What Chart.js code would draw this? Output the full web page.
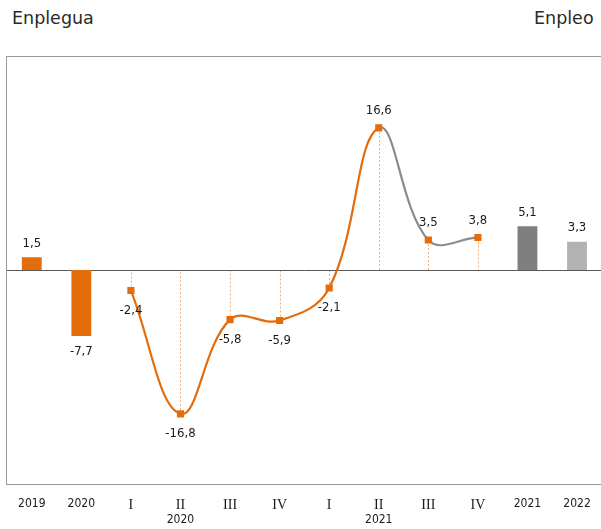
<!DOCTYPE html>
<html>
<head>
<meta charset="utf-8">
<script src="https://cdn.jsdelivr.net/npm/chart.js@4.4.0/dist/chart.umd.min.js"></script>
<style>
html, body { margin: 0; padding: 0; background: #fff; overflow: hidden; }
#wrap { position: relative; width: 608px; height: 529px; }
#cnvs { position: absolute; left: 0; top: 0; }
.head { position: absolute; top: 8px; font-family: "DejaVu Sans", Verdana, sans-serif; font-size: 17.5px; color: #2a2a2a; }
</style>
</head>
<body>
<div id="wrap">
  <span class="head" style="left:12px">Enplegua</span>
  <span class="head" style="left:534px">Enpleo</span>
  <canvas id="cnvs" width="608" height="529"></canvas>
</div>
<script>
// data
var categories = ['2019', '2020', 'I', 'II', 'III', 'IV', 'I', 'II', 'III', 'IV', '2021', '2022'];
var quarterYears = ['', '', '', '2020', '', '', '', '2021', '', '', '', ''];
var annualValues = [1.5, -7.7, null, null, null, null, null, null, null, null, 5.1, 3.3];
var quarterValues = [null, null, -2.4, -16.8, -5.8, -5.9, -2.1, 16.6, 3.5, 3.8, null, null];

var orange = '#E46C0A';
var grey = '#8C8C8C';
var condFont = '"DejaVu Sans Condensed", "DejaVu Sans", sans-serif';

function fmt(v) { return v.toFixed(1).replace('.', ','); }

var extras = {
  id: 'extras',
  beforeDatasetsDraw: function(chart) {
    var ctx = chart.ctx, area = chart.chartArea;
    var zero = Math.round(chart.scales.y.getPixelForValue(0)) + 0.5;
    ctx.save();
    // frame
    ctx.strokeStyle = '#9a9a9a';
    ctx.lineWidth = 1;
    ctx.strokeRect(Math.round(area.left) - 0.5, Math.round(area.top) + 0.5,
      Math.round(area.right - area.left), Math.round(area.bottom - area.top));
    // drop lines
    ctx.strokeStyle = '#F4B07A';
    ctx.setLineDash([2, 2]);
    chart.getDatasetMeta(1).data.forEach(function(pt, i) {
      if (quarterValues[i] === null) return;
      var x = Math.round(pt.x) + 0.5;
      ctx.beginPath(); ctx.moveTo(x, pt.y); ctx.lineTo(x, zero); ctx.stroke();
    });
    ctx.setLineDash([]);
    // zero line
    ctx.strokeStyle = '#595959';
    ctx.beginPath(); ctx.moveTo(area.left, zero); ctx.lineTo(area.right, zero); ctx.stroke();
    ctx.restore();
  },
  afterDatasetsDraw: function(chart) {
    var ctx = chart.ctx;
    ctx.save();
    ctx.font = '13px ' + condFont;
    ctx.fillStyle = '#1a1a1a';
    ctx.textAlign = 'center';
    ctx.textBaseline = 'middle';
    chart.getDatasetMeta(0).data.forEach(function(bar, i) {
      var v = annualValues[i];
      if (v === null) return;
      ctx.fillText(fmt(v), bar.x, v >= 0 ? bar.y - 14 : bar.y + 16);
    });
    chart.getDatasetMeta(1).data.forEach(function(pt, i) {
      var v = quarterValues[i];
      if (v === null) return;
      ctx.fillText(fmt(v), pt.x, v >= 0 ? pt.y - 17 : pt.y + 20);
    });
    // year under quarter labels
    ctx.font = '12px ' + condFont;
    var xs = chart.scales.x;
    quarterYears.forEach(function(y, i) {
      if (!y) return;
      ctx.fillText(y, xs.getPixelForValue(i), 520);
    });
    ctx.restore();
  }
};

var Cnvs = document.getElementById('cnvs');
var chart = new Chart(Cnvs, {
  type: 'bar',
  data: {
    labels: categories,
    datasets: [{
      type: 'bar',
      data: annualValues,
      backgroundColor: function(c) {
        if (c.dataIndex === 10) return '#7F7F7F';
        if (c.dataIndex === 11) return '#B2B2B2';
        return orange;
      },
      categoryPercentage: 1,
      barPercentage: 0.4,
      order: 2
    }, {
      type: 'line',
      data: quarterValues,
      borderColor: orange,
      borderWidth: 2.2,
      tension: 0.4,
      pointStyle: 'rect',
      pointRadius: 3.5,
      pointBackgroundColor: orange,
      pointBorderColor: orange,
      segment: {
        borderColor: function(c) { return c.p0DataIndex >= 7 ? grey : orange; }
      },
      order: 1
    }]
  },
  options: {
    responsive: false,
    animation: false,
    layout: { padding: { top: 56, left: 7, right: 0, bottom: 17 } },
    plugins: { legend: { display: false }, tooltip: { enabled: false } },
    scales: {
      x: {
        grid: { display: false },
        border: { display: false },
        afterFit: function(s) { s.height = 28; },
        ticks: {
          padding: 5,
          maxRotation: 0,
          autoSkip: false,
          color: '#1a1a1a',
          font: function(c) {
            var l = categories[c.index];
            return /^[IV]+$/.test(l) ? { family: '"Liberation Serif", serif', size: 14 } : { family: condFont, size: 12 };
          }
        }
      },
      y: { display: false, min: -25, max: 25 }
    }
  },
  plugins: [extras]
});
</script>
</body>
</html>
